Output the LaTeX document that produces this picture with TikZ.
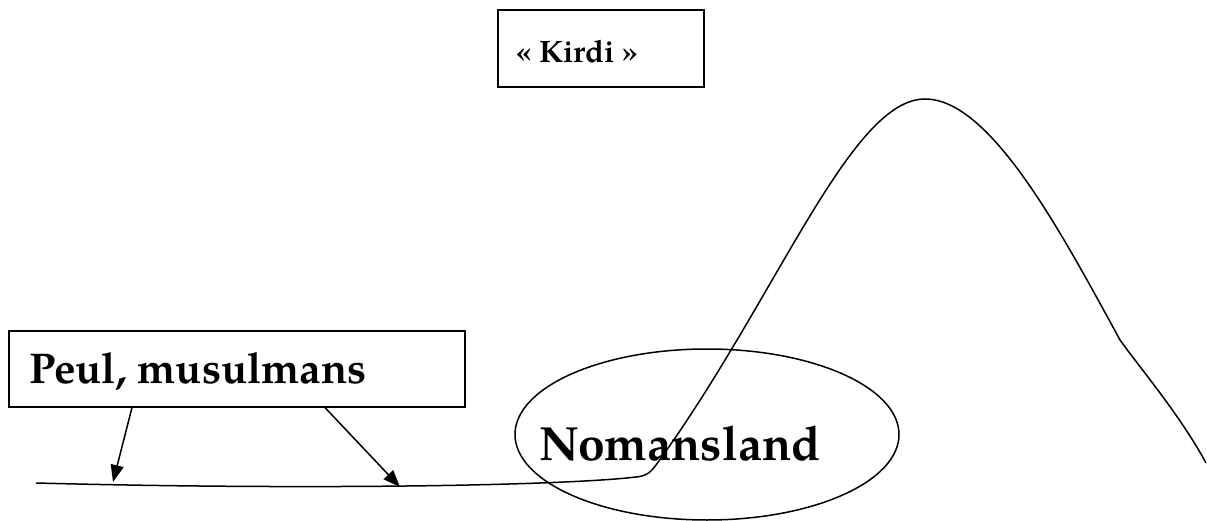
\documentclass[tikz,border=0pt]{standalone}
\usepackage{fontspec}
\setmainfont{TeX Gyre Pagella}
\usetikzlibrary{arrows.meta,shapes.geometric}
\begin{document}
\begin{tikzpicture}[x=1pt,y=-1pt,
  box/.style={draw,line width=1.6pt,inner sep=0pt,anchor=north west},
  lbl/.style={inner sep=0pt,anchor=base west,font=\bfseries},
  curve/.style={line width=1.5pt,line join=round},
  arr/.style={line width=1.5pt,-{Triangle[length=17pt,width=13pt]}}]
\useasboundingbox (0,0) rectangle (1207,521);
% Kirdi box
\node[box,minimum width=206pt,minimum height=77pt] (kirdi) at (497,9) {};
\node[lbl,font=\bfseries\fontsize{31}{36}\selectfont] (kirditxt) at (516,63) {« Kirdi »};
% Peul box
\node[box,minimum width=456pt,minimum height=76pt] (peul) at (8,330) {};
\node[lbl,font=\bfseries\fontsize{43}{50}\selectfont] (peultxt) at (29,383) {Peul, musulmans};
% ellipse
\node[draw,ellipse,line width=1.5pt,minimum width=384pt,minimum height=171pt,inner sep=0pt] (nml) at (707,434.5) {};
\node[lbl,font=\bfseries\fontsize{48}{56}\selectfont] (nmltxt) at (539,460) {Nomansland};
% ground and mountain
\draw[curve] (36,483) .. controls (300,490) and (560,486) .. (636,477)
  .. controls (646,476) and (650,473) .. (656,465)
  .. controls (776,300) and (850,99) .. (925,99)
  .. controls (990,99) and (1060,230) .. (1120,340)
  .. controls (1140,368) and (1180,415) .. (1206,463);
% arrows
\coordinate (g1) at (113,482);
\coordinate (g2) at (400,487);
\draw[arr] ([xshift=124pt]peul.south west) -- (g1);
\draw[arr] ([xshift=317pt]peul.south west) -- (g2);
\end{tikzpicture}
\end{document}
